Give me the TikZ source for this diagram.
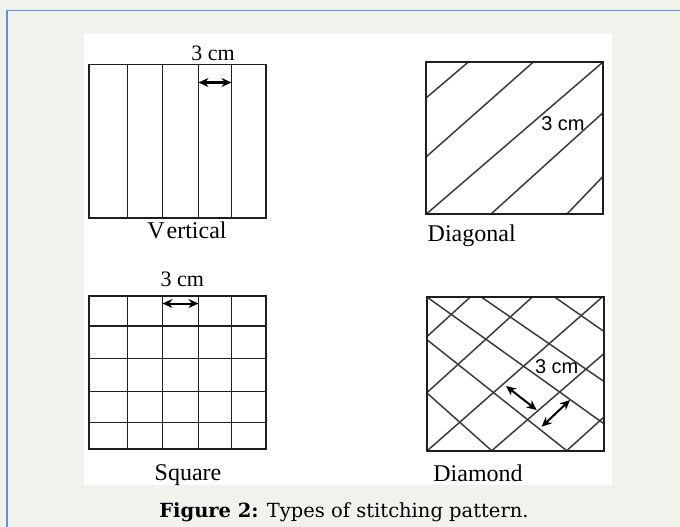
\documentclass[tikz,border=0pt]{standalone}
\usepackage{fontspec}
\setmainfont{Liberation Serif}
\newfontfamily\arialf{Liberation Sans}
\newfontfamily\capf{DejaVu Serif}
\usetikzlibrary{arrows.meta}
\definecolor{bgc}{RGB}{242,242,237}
\definecolor{bluec}{RGB}{94,149,221}
\definecolor{linec}{RGB}{30,30,30}
\definecolor{hatchc}{RGB}{60,60,60}
\tikzset{
  boxline/.style={draw=linec, line width=1.9pt},
  gridline/.style={draw=linec, line width=1.9pt},
  hatchline/.style={draw=hatchc, line width=1.5pt},
  dimarrow/.style={line width=2pt, {Stealth[length=10pt,width=9pt]}-{Stealth[length=10pt,width=9pt]}},
  lbl/.style={font=\fontsize{24}{26}\selectfont, anchor=base, inner sep=0pt},
  cmlbl/.style={font=\fontsize{22}{24}\selectfont, anchor=base, inner sep=0pt},
  cmslbl/.style={font=\arialf\fontsize{20}{22}\selectfont, anchor=base, inner sep=0pt},
}
\begin{document}
\begin{tikzpicture}[x=1pt,y=-1pt]
\useasboundingbox (0,0) rectangle (680,527);
\fill[bgc] (0,0) rectangle (680,527);
\draw[bluec, line width=1.6pt] (7,527) -- (7,10.5) -- (680,10.5);
\fill[white] (84,34) rectangle (612,485);

% Vertical
\draw[gridline] (127.5,64.5) -- (127.5,218) (162.5,64.5) -- (162.5,218) (198.5,64.5) -- (198.5,218) (231.5,64.5) -- (231.5,218);
\draw[boxline] (89,64.5) rectangle (266,218);
\coordinate (va) at (198.5,82.5); \coordinate (vb) at (231.5,82.5);
\draw[dimarrow] (va) -- (vb);
\node[cmlbl] (vcm) at (213,60) {3 cm};
\node[lbl] (vlab) at (187,238) {V\kern2pt ertical};

% Diagonal
\begin{scope}
\clip (426,62.3) rectangle (602.7,214.3);
\draw[hatchline] (426,98) -- (468,62.3);
\draw[hatchline] (426,157) -- (533,62.3);
\draw[hatchline] (426,214.3) -- (602.7,62.3);
\draw[hatchline] (490.7,214.3) -- (602.7,113);
\draw[hatchline] (566.7,214.3) -- (602.7,176.7);
\end{scope}
\draw[boxline] (426,62.3) rectangle (602.7,214.3);
\node[cmslbl] (dcm) at (563,130) {3 cm};
\node[lbl] (dlab) at (471.7,241.7) {Diagonal};

% Square
\draw[gridline] (127.5,296) -- (127.5,449) (162.5,296) -- (162.5,449) (198.5,296) -- (198.5,449) (231.5,296) -- (231.5,449);
\draw[gridline] (89,326) -- (266,326) (89,358.5) -- (266,358.5) (89,391.5) -- (266,391.5) (89,422.5) -- (266,422.5);
\draw[boxline] (89,296) rectangle (266,449);
\coordinate (sa) at (162.5,303.5); \coordinate (sb) at (198.5,303.5);
\draw[dimarrow] (sa) -- (sb);
\node[cmlbl] (scm) at (182.3,286.7) {3 cm};
\node[lbl] (slab) at (188,480) {Square};

% Diamond
\begin{scope}
\clip (427.3,297.3) rectangle (604.3,450.7);
% ascending lines
\draw[hatchline] (427.3,336.3) -- (470,297.3);
\draw[hatchline] (427.3,392.3) -- (532,297.3);
\draw[hatchline] (427.3,450.7) -- (602,297.3);
\draw[hatchline] (491.7,450.7) -- (604.3,353.3);
\draw[hatchline] (566.7,450.7) -- (604.3,416.7);
% descending lines
\draw[hatchline] (555,297.3) -- (604.3,331.7);
\draw[hatchline] (481.7,297.3) -- (604.3,381.7);
\draw[hatchline] (427.3,297.3) -- (604.3,424);
\draw[hatchline] (427.3,340) -- (566.7,450.7);
\draw[hatchline] (427.3,393.3) -- (491.7,450.7);
\end{scope}
\draw[boxline] (427.3,297.3) rectangle (604.3,450.7);
\coordinate (ma) at (506,386); \coordinate (mb) at (536.7,410);
\coordinate (mc) at (541.7,426.7); \coordinate (md) at (570,400);
\draw[dimarrow] (ma) -- (mb);
\draw[dimarrow] (mc) -- (md);
\node[cmslbl] (mcm) at (556.7,373.5) {3 cm};
\node[lbl] (mlab) at (478,481) {Diamond};

% Caption
\node[font=\capf\fontsize{19.5}{22}\selectfont, anchor=base, inner sep=0pt] (cap) at (344,517) {\textbf{Figure 2:} Types of stitching pattern.};
\end{tikzpicture}
\end{document}
